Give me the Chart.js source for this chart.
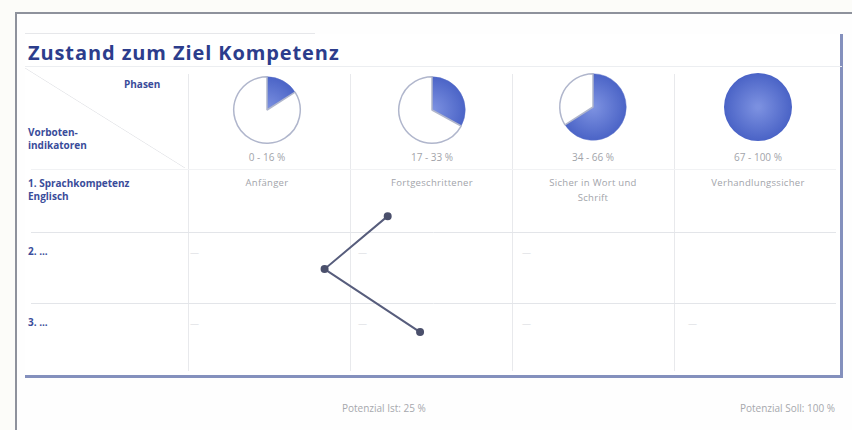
<!DOCTYPE html>
<html>
<head>
<meta charset="utf-8">
<script src="https://cdn.jsdelivr.net/npm/chart.js@4"></script>
<style>
  body { margin:0; width:852px; height:430px; background:#fcfcf9; font-family:"Open Sans", sans-serif; position:relative; overflow:hidden; }
  .abs { position:absolute; }
  #frame { left:15px; top:12px; width:845px; height:430px; border-top:2px solid #8e929c; border-left:2px solid #8e929c; background:#fefefe; }
  #box { left:25px; top:34px; width:815px; height:341px; border-right:3px solid #8490bd; border-bottom:3px solid #8490bd; background:#ffffff; }
  #topline { left:25px; top:33px; width:290px; border-top:1px solid #e6e7ea; }
  #headline { left:25px; top:66px; width:817px; border-top:1px solid #eceef1; }
  #diag { left:25px; top:68px; width:160px; height:100px;
          background:linear-gradient(to top right, transparent calc(50% - 0.7px), #e6e7ea 50%, transparent calc(50% + 0.7px)); }
  #title { left:28px; top:39px; font-size:20px; font-weight:700; color:#2c3d8c; letter-spacing:0.9px; }
  .lbl { font-size:10px; font-weight:700; color:#3a4c9a; line-height:13px; }
  .grey { font-size:10px; color:#a2a4aa; line-height:14px; text-align:center; width:160px; }
  .dash { font-size:9px; color:#d6d8dc; }
  .pie { width:72px; height:72px; }
  #main { left:25px; top:68px; width:817px; height:309px; }
  .foot { font-size:10px; color:#a6a8ad; top:401px; }
</style>
</head>
<body>
<div id="frame" class="abs"></div>
<div id="box" class="abs"></div>
<div id="topline" class="abs"></div>
<div id="headline" class="abs"></div>
<div id="diag" class="abs"></div>
<div id="title" class="abs">Zustand zum Ziel Kompetenz</div>
<div class="abs lbl" style="left:124px; top:78px;">Phasen</div>
<div class="abs lbl" style="left:28px; top:126px;">Vorboten-<br>indikatoren</div>
<div class="abs lbl" style="left:28px; top:177px;">1. Sprachkompetenz<br>Englisch</div>
<div class="abs lbl" style="left:28px; top:245px;">2. ...</div>
<div class="abs lbl" style="left:28px; top:316px;">3. ...</div>
<div id="colLabels"></div>
<div class="abs dash" style="left:190px; top:246px;">—</div>
<div class="abs dash" style="left:358px; top:246px;">—</div>
<div class="abs dash" style="left:522px; top:246px;">—</div>
<div class="abs dash" style="left:190px; top:317px;">—</div>
<div class="abs dash" style="left:358px; top:317px;">—</div>
<div class="abs dash" style="left:522px; top:317px;">—</div>
<div class="abs dash" style="left:688px; top:317px;">—</div>
<div class="abs" id="main"><canvas id="mainChart"></canvas></div>
<div class="abs foot" style="left:342px;">Potenzial Ist: 25 %</div>
<div class="abs foot" style="right:17px;">Potenzial Soll: 100 %</div>

<script>
// phases (columns)
const phaseRanges = ['0 - 16 %', '17 - 33 %', '34 - 66 %', '67 - 100 %'];
const phaseNames = ['Anfänger', 'Fortgeschrittener', 'Sicher in Wort und Schrift', 'Verhandlungssicher'];
const phaseFill = [16, 33, 66, 100];

// indicator line: x in column units (0..4), y in row units (0..3)
const lineX = [1.23, 0.84, 1.43];
const lineY = [0.69, 1.48, 2.42];

// table grid positions in the same units
const colLines = [0, 1, 2, 3];
const rowLines = [0, 0.93, 1.99];

const pieCenters = [[267, 110], [432, 110], [593, 107], [758, 107]];
const labelCols = [267, 432, 593, 758];

const colLabels = document.getElementById('colLabels');
phaseRanges.forEach((r, i) => {
  const d = document.createElement('div');
  d.className = 'abs grey';
  d.style.left = (labelCols[i] - 80) + 'px';
  d.style.top = '150px';
  d.textContent = r;
  colLabels.appendChild(d);
  const n = document.createElement('div');
  n.className = 'abs grey';
  n.style.left = (labelCols[i] - 55) + 'px';
  n.style.width = '110px';
  n.style.top = '175px';
  n.style.fontSize = '9.5px';
  n.style.lineHeight = '15px';
  n.style.letterSpacing = '0.3px';
  n.textContent = phaseNames[i];
  colLabels.appendChild(n);
});

function pieFill(ctx) {
  if (ctx.dataIndex === 1) return '#ffffff';
  const area = ctx.chart.chartArea;
  if (!area) return '#5470cf';
  const cx = (area.left + area.right) / 2, cy = (area.top + area.bottom) / 2;
  const g = ctx.chart.ctx.createRadialGradient(cx, cy, 2, cx, cy, (area.right - area.left) / 2);
  g.addColorStop(0, '#7b90e0');
  g.addColorStop(1, '#4a63c6');
  return g;
}

pieCenters.forEach((c, i) => {
  const wrap = document.createElement('div');
  wrap.className = 'abs pie';
  wrap.style.left = (c[0] - 36) + 'px';
  wrap.style.top = (c[1] - 36) + 'px';
  const cv = document.createElement('canvas');
  wrap.appendChild(cv);
  document.body.appendChild(wrap);
  new Chart(cv, {
    type: 'pie',
    data: { labels: ['Ist', 'Rest'], datasets: [{
      data: [phaseFill[i], 100 - phaseFill[i]],
      backgroundColor: pieFill,
      borderColor: ['#5a70c8', '#b0b6cc'],
      borderWidth: ctx => ctx.raw === 0 || ctx.raw === 100 ? 0 : (ctx.dataIndex === 0 ? 0.5 : 1.5)
    }]},
    options: { responsive:true, maintainAspectRatio:false, animation:false,
      layout:{ padding:2 },
      plugins:{ legend:{display:false}, tooltip:{enabled:false} } }
  });
});

new Chart(document.getElementById('mainChart'), {
  type: 'scatter',
  data: { datasets: [{
    data: lineX.map((x, i) => ({ x, y: lineY[i] })),
    showLine: true,
    borderColor: '#575d7c',
    borderWidth: 2,
    pointRadius: 3,
    pointBackgroundColor: '#4b506c',
    pointBorderColor: '#4b506c',
    clip: false
  }]},
  options: {
    responsive:true, maintainAspectRatio:false, animation:false,
    layout:{ padding:0 },
    plugins:{ legend:{display:false}, tooltip:{enabled:false} },
    scales: {
      x: { type:'linear', min:-0.974, max:4,
        afterBuildTicks: s => { s.ticks = colLines.map(v => ({ value: v })); },
        ticks:{ display:false }, border:{ display:false },
        grid:{ color:'#e8e9ec', lineWidth:1, drawTicks:false } },
      y: { type:'linear', min:-1.43, max:3, reverse:true,
        afterBuildTicks: s => { s.ticks = rowLines.map(v => ({ value: v })); },
        ticks:{ display:false }, border:{ display:false },
        grid:{ color: c => c.tick && c.tick.value === 0 ? '#f1f2f4' : '#e3e5e9', lineWidth:1, drawTicks:false } }
    }
  }
});
</script>
</body>
</html>
